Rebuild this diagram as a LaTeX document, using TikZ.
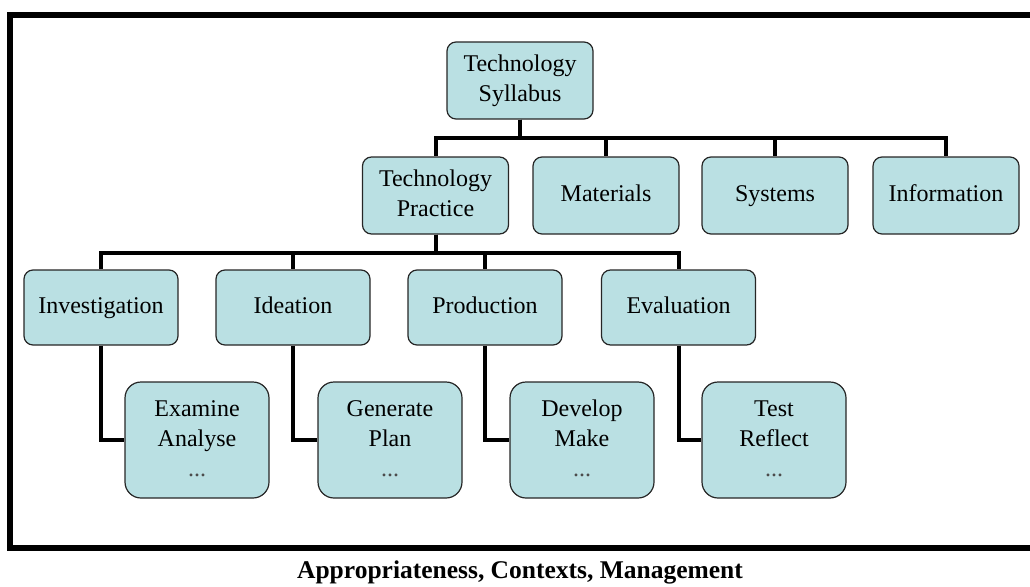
\documentclass[tikz,border=0pt]{standalone}
\usepackage{fontspec}
\setmainfont{Liberation Serif}
\definecolor{boxfill}{HTML}{BAE0E3}
\newcommand\Ls{\strut}
\tikzset{
  box/.style={draw=black!85, line width=1.2pt, fill=boxfill, rounded corners=9pt,
    align=center, inner sep=0pt, font=\fontsize{24}{30}\selectfont},
  top/.style={box, minimum width=146pt, minimum height=77pt},
  lvl/.style={box, minimum width=154pt, minimum height=75pt},
  leaf/.style={box, minimum width=144pt, minimum height=116pt, rounded corners=16pt},
  conn/.style={line width=4pt, line join=miter},
}
\begin{document}
\begin{tikzpicture}[x=1pt,y=-1pt]
\useasboundingbox (0,0) rectangle (1030,586);
\begin{scope}
\clip (0,0) rectangle (1030,586);
\draw[line width=6pt] (10,15) rectangle (1040,548);
\end{scope}
\node[top] (syl) at (520,80.5) {\Ls Technology\\\Ls Syllabus};
\node[top] (prac) at (435.5,195.5) {\Ls Technology\\\Ls Practice};
\node[top] (mat) at (606,195.5) {\Ls Materials};
\node[top] (sys) at (775,195.5) {\Ls Systems};
\node[top] (inf) at (946,195.5) {\Ls Information};
\node[lvl] (inv) at (101,307.5) {\Ls Investigation};
\node[lvl] (ide) at (293,307.5) {\Ls Ideation};
\node[lvl] (pro) at (485,307.5) {\Ls Production};
\node[lvl] (eva) at (678.5,307.5) {\Ls Evaluation};
\node[leaf] (exa) at (197,440) {\Ls Examine\\\Ls Analyse\\\Ls{\color{black!70}...}};
\node[leaf] (gen) at (390,440) {\Ls Generate\\\Ls Plan\\\Ls{\color{black!70}...}};
\node[leaf] (dev) at (582,440) {\Ls Develop\\\Ls Make\\\Ls{\color{black!70}...}};
\node[leaf] (tes) at (774,440) {\Ls Test\\\Ls Reflect\\\Ls{\color{black!70}...}};
\foreach \c in {prac,mat,sys,inf}
  \draw[conn] (syl.south) -- ++(0,18) -| (\c.north);
\foreach \c in {inv,ide,pro,eva}
  \draw[conn] (prac.south) -- ++(0,18) -| (\c.north);
\draw[conn] (inv.south) |- (exa.west);
\draw[conn] (ide.south) |- (gen.west);
\draw[conn] (pro.south) |- (dev.west);
\draw[conn] (eva.south) |- (tes.west);
\node[anchor=base, font=\fontsize{25.5}{30}\selectfont\bfseries] (cap) at (520,578)
  {Appropriateness, Contexts, Management};
\end{tikzpicture}
\end{document}
